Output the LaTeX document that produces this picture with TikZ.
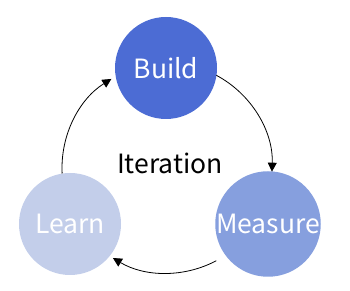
\documentclass[tikz,border=0pt]{standalone}
\usepackage{fontspec}
\setmainfont{Noto Sans CJK SC}
\usetikzlibrary{arrows.meta}
\definecolor{cbuild}{RGB}{76,108,212}
\definecolor{cmeasure}{RGB}{134,159,222}
\definecolor{clearn}{RGB}{195,206,234}
\tikzset{
  stage/.style={circle, minimum size=102pt, inner sep=0pt, text=white, font=\fontsize{26.5}{30}\selectfont},
  cyc/.style={draw=black, line width=0.8pt, -{Triangle[length=9pt,width=9pt]}}
}
\begin{document}
\begin{tikzpicture}[x=1pt,y=1pt]
\useasboundingbox (0,0) rectangle (350,291);
\node[stage, fill=cbuild] (build) at (166,223) {Build};
\node[stage, fill=cmeasure] (measure) at (268,67) {Measure};
\node[stage, fill=clearn] (learn) at (70,67) {Learn};
\node[font=\fontsize{26.5}{30}\selectfont] (iter) at (170,128) {Iteration};
\coordinate (c) at (167,123);
\coordinate (p1) at ([shift={(c)}]62:105);
\coordinate (p2) at ([shift={(c)}]-62:105);
\coordinate (p3) at ([shift={(c)}]183:105);
\draw[cyc] (p1) arc[start angle=62, end angle=-2, radius=105];
\draw[cyc] (p2) arc[start angle=-62, end angle=-121, radius=105];
\draw[cyc] (p3) arc[start angle=183, end angle=122, radius=105];
\end{tikzpicture}
\end{document}
